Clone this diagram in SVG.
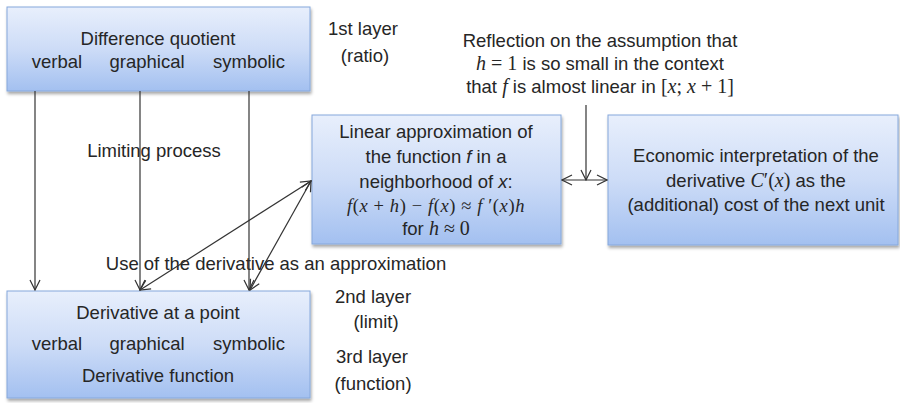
<svg xmlns="http://www.w3.org/2000/svg" width="900" height="403" viewBox="0 0 900 403">
<defs>
<linearGradient id="boxfill" x1="0" y1="0" x2="0" y2="1">
<stop offset="0" stop-color="#e8effc"/>
<stop offset="0.5" stop-color="#cddcf7"/>
<stop offset="1" stop-color="#a3c0f0"/>
</linearGradient>
<filter id="shadow" x="-5%" y="-5%" width="112%" height="120%">
<feDropShadow dx="1" dy="2.5" stdDeviation="1.5" flood-color="#000" flood-opacity="0.35"/>
</filter>
<marker id="arr" viewBox="0 0 12 12" refX="11" refY="6" markerWidth="12" markerHeight="12" markerUnits="userSpaceOnUse" orient="auto-start-reverse">
<path d="M1,1 L11,6 L1,11" fill="none" stroke="#333" stroke-width="1.2"/>
</marker>
</defs>
<style>
.box{fill:url(#boxfill);stroke:#86a8dc;stroke-width:1;filter:url(#shadow)}
text{font-family:"Liberation Sans",Arial,sans-serif;font-size:18.5px;fill:#262626;text-anchor:middle}
.m{font-family:"Liberation Serif","Times New Roman",serif}
.i{font-style:italic}
.ln{fill:none;stroke:#333;stroke-width:1.2}
</style>

<g id="difference-quotient">
<rect class="box" x="7" y="7" width="303" height="84"/>
<text x="158" y="45">Difference quotient</text>
<text x="57" y="68">verbal</text>
<text x="147" y="68">graphical</text>
<text x="249" y="68">symbolic</text>
</g>

<g id="derivative">
<rect class="box" x="7" y="291" width="303" height="107"/>
<text x="158" y="319">Derivative at a point</text>
<text x="57" y="350">verbal</text>
<text x="147" y="350">graphical</text>
<text x="249" y="350">symbolic</text>
<text x="158" y="382">Derivative function</text>
</g>

<g id="linear-approximation">
<rect class="box" x="312" y="115" width="249" height="129"/>
<text x="436" y="138">Linear approximation of</text>
<text x="436" y="163">the function <tspan class="i">f</tspan> in a</text>
<text x="436" y="188">neighborhood of <tspan class="i">x</tspan>:</text>
<text x="436" y="212" class="m" font-size="22" letter-spacing="0.6"><tspan class="i">f</tspan>(<tspan class="i">x</tspan> + <tspan class="i">h</tspan>) − <tspan class="i">f</tspan>(<tspan class="i">x</tspan>) ≈ <tspan class="i">f</tspan> ′(<tspan class="i">x</tspan>)<tspan class="i">h</tspan></text>
<text x="436" y="235">for <tspan class="m i" font-size="20">h</tspan><tspan class="m" font-size="20"> ≈ 0</tspan></text>
</g>

<g id="economic-interpretation">
<rect class="box" x="608" y="115" width="290" height="130"/>
<text x="756" y="162">Economic interpretation of the</text>
<text x="756" y="187">derivative <tspan class="m i" font-size="20">C</tspan><tspan class="m" font-size="20">′(</tspan><tspan class="m i" font-size="20">x</tspan><tspan class="m" font-size="20">)</tspan> as the</text>
<text x="756" y="211">(additional) cost of the next unit</text>
</g>

<g id="labels">
<text x="363" y="35">1st layer</text>
<text x="365" y="62">(ratio)</text>
<text x="154" y="157">Limiting process</text>
<text x="600" y="47">Reflection on the assumption that</text>
<text x="600" y="70"><tspan class="m i" font-size="20">h</tspan><tspan class="m" font-size="20"> = 1</tspan> is so small in the context</text>
<text x="600" y="93">that <tspan class="m i" font-size="20">f</tspan> is almost linear in <tspan class="m" font-size="20">[<tspan class="i">x</tspan>; <tspan class="i">x</tspan> + 1]</tspan></text>
<text x="276" y="270">Use of the derivative as an approximation</text>
<text x="373" y="303">2nd layer</text>
<text x="376" y="328">(limit)</text>
<text x="372" y="363">3rd layer</text>
<text x="373" y="390">(function)</text>
</g>

<g id="connectors">
<line class="ln" x1="35" y1="91" x2="35" y2="290" marker-end="url(#arr)"/>
<line class="ln" x1="140" y1="91" x2="140" y2="290" marker-end="url(#arr)"/>
<line class="ln" x1="249" y1="91" x2="249" y2="290" marker-end="url(#arr)"/>
<line class="ln" x1="311" y1="181" x2="140" y2="290" marker-start="url(#arr)" marker-end="url(#arr)"/>
<line class="ln" x1="311" y1="181" x2="250" y2="290" marker-start="url(#arr)" marker-end="url(#arr)"/>
<line class="ln" x1="586" y1="105" x2="586" y2="180" marker-end="url(#arr)"/>
<line class="ln" x1="562" y1="180" x2="607" y2="180" marker-start="url(#arr)" marker-end="url(#arr)"/>
</g>
</svg>
